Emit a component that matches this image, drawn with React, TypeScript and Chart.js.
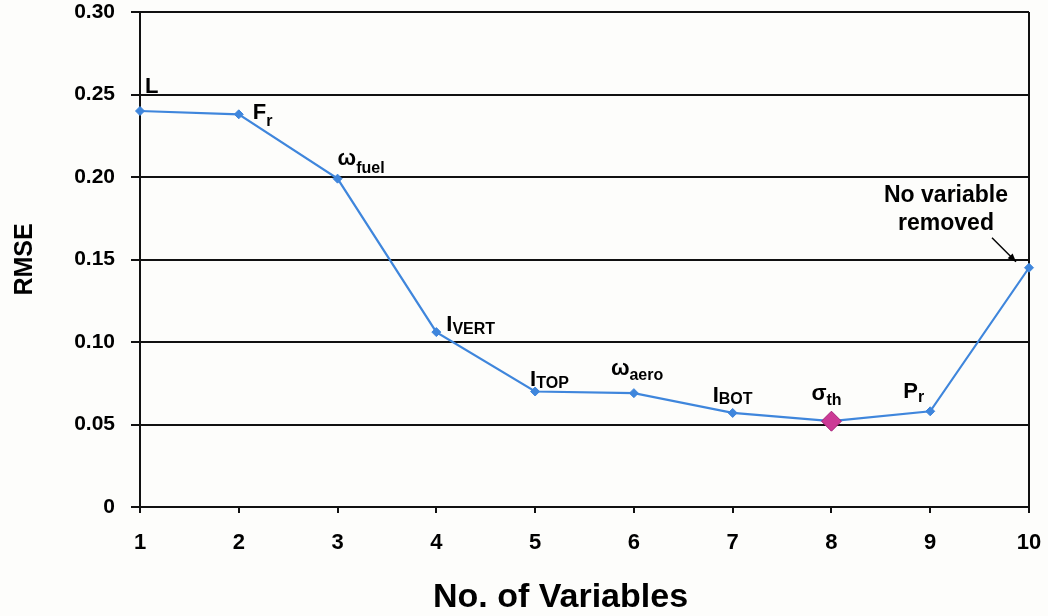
import React, { useEffect, useRef } from 'react';
import { Chart, registerables } from 'chart.js';

Chart.register(...registerables);

// ---- data ----
const VARIABLE_COUNTS = [1, 2, 3, 4, 5, 6, 7, 8, 9, 10];
const RMSE_VALUES = [0.240, 0.238, 0.199, 0.106, 0.070, 0.069, 0.057, 0.052, 0.058, 0.145];
const LABEL_MAIN = ['L', 'F', 'ω', 'I', 'I', 'ω', 'I', 'σ', 'P', ''];
const LABEL_SUB = ['', 'r', 'fuel', 'VERT', 'TOP', 'aero', 'BOT', 'th', 'r', ''];
const ANNOTATION_LINES = ['No variable', 'removed'];
const BEST_INDEX = 7;
const X_TITLE = 'No. of Variables';
const Y_TITLE = 'RMSE';

// ---- styling / label placement (pixel offsets from each point: dx, dy, subscript dy) ----
const FONT = '"Liberation Sans", Arial, Helvetica, sans-serif';
const LABEL_OFFSETS = [
  [5, -18, 0],
  [14, 5, 7],
  [0, -14, 8],
  [10, -1, 3],
  [-5, -6, 2],
  [-23, -18, 5],
  [-20, -11, 2],
  [-20, -21, 5],
  [-27, -13, 4],
  [0, 0, 0],
];
const LINE_COLOR = '#3f86dc';
const BEST_COLOR = '#cc3a95';
const AXIS_COLOR = '#111111';

const zeroPadding = (s: any) => {
  s.paddingTop = 0;
  s.paddingBottom = 0;
  s.paddingLeft = 0;
  s.paddingRight = 0;
};

const annotatePlugin = {
  id: 'annotate',
  beforeDraw(chart: any) {
    const ctx = chart.ctx;
    ctx.save();
    ctx.fillStyle = '#fdfdfb';
    ctx.fillRect(0, 0, chart.width, chart.height);
    ctx.restore();
  },
  afterDatasetsDraw(chart: any) {
    const ctx = chart.ctx;
    const meta = chart.getDatasetMeta(0);
    ctx.save();
    ctx.fillStyle = '#000';
    ctx.textBaseline = 'alphabetic';
    ctx.textAlign = 'left';
    meta.data.forEach((pt: any, i: number) => {
      const main = LABEL_MAIN[i];
      if (!main) return;
      const [dx, dy, sdy] = LABEL_OFFSETS[i];
      const x = pt.x + dx;
      const y = pt.y + dy;
      ctx.font = `bold 22px ${FONT}`;
      ctx.fillText(main, x, y);
      const w = ctx.measureText(main).width;
      if (LABEL_SUB[i]) {
        ctx.font = `bold 16px ${FONT}`;
        ctx.fillText(LABEL_SUB[i], x + w, y + sdy);
      }
    });

    // annotation for the last point
    const last = meta.data[meta.data.length - 1];
    ctx.font = `bold 23px ${FONT}`;
    ctx.textAlign = 'center';
    ctx.fillText(ANNOTATION_LINES[0], last.x - 83, last.y - 66);
    ctx.fillText(ANNOTATION_LINES[1], last.x - 83, last.y - 38);

    // arrow
    const x0 = last.x - 37, y0 = last.y - 30;
    const x1 = last.x - 13, y1 = last.y - 6;
    ctx.strokeStyle = '#000';
    ctx.lineWidth = 1.5;
    ctx.beginPath();
    ctx.moveTo(x0, y0);
    ctx.lineTo(x1, y1);
    ctx.stroke();
    const ang = Math.atan2(y1 - y0, x1 - x0);
    const ah = 9;
    ctx.beginPath();
    ctx.moveTo(x1, y1);
    ctx.lineTo(x1 - ah * Math.cos(ang - 0.4), y1 - ah * Math.sin(ang - 0.4));
    ctx.lineTo(x1 - ah * Math.cos(ang + 0.4), y1 - ah * Math.sin(ang + 0.4));
    ctx.closePath();
    ctx.fill();

    // x-axis title
    const ca = chart.chartArea;
    ctx.font = `bold 34px ${FONT}`;
    ctx.textAlign = 'center';
    ctx.fillText(X_TITLE, ca.left + (ca.right - ca.left) * 0.473, chart.height - 9);
    ctx.restore();
  },
};

export default function App() {
  const canvasRef = useRef<HTMLCanvasElement | null>(null);

  useEffect(() => {
    if (!canvasRef.current) return;
    const chart = new Chart(canvasRef.current, {
      type: 'line',
      data: {
        datasets: [
          {
            label: Y_TITLE,
            data: VARIABLE_COUNTS.map((x, i) => ({ x, y: RMSE_VALUES[i] })),
            borderColor: LINE_COLOR,
            borderWidth: 2.2,
            tension: 0,
            clip: false as any,
            pointStyle: 'rectRot',
            pointRadius: (c: any) => (c.dataIndex === BEST_INDEX ? 10 : 4.5),
            pointBackgroundColor: (c: any) => (c.dataIndex === BEST_INDEX ? BEST_COLOR : LINE_COLOR),
            pointBorderColor: (c: any) => (c.dataIndex === BEST_INDEX ? '#a52478' : LINE_COLOR),
            pointBorderWidth: 1,
          },
        ],
      },
      options: {
        responsive: false,
        animation: false,
        events: [],
        layout: { padding: { top: 12, right: 19, left: 0, bottom: 0 } },
        plugins: { legend: { display: false }, tooltip: { enabled: false } },
        scales: {
          x: {
            type: 'linear',
            min: 1,
            max: 10,
            afterFit: (s: any) => { s.height = 109; zeroPadding(s); },
            ticks: {
              stepSize: 1,
              color: '#000',
              padding: 17,
              font: { family: FONT, size: 22, weight: 'bold' },
            },
            grid: {
              color: (c: any) => (c.tick && c.tick.value === 10 ? AXIS_COLOR : 'rgba(0,0,0,0)'),
              tickColor: AXIS_COLOR,
              tickLength: 6,
              lineWidth: 2,
            },
            border: { display: true, color: AXIS_COLOR, width: 2 },
          },
          y: {
            min: 0,
            max: 0.3,
            afterFit: (s: any) => { s.width = 140; zeroPadding(s); },
            ticks: {
              stepSize: 0.05,
              color: '#000',
              padding: 16,
              font: { family: FONT, size: 21, weight: 'bold' },
              callback: (v: any) => (Number(v) === 0 ? '0' : Number(v).toFixed(2)),
            },
            grid: {
              color: AXIS_COLOR,
              tickColor: AXIS_COLOR,
              tickLength: 9,
              lineWidth: 2,
            },
            border: { display: true, color: AXIS_COLOR, width: 2 },
            title: {
              display: true,
              text: Y_TITLE,
              color: '#000',
              padding: { top: 10, bottom: 0 },
              font: { family: FONT, size: 25, weight: 'bold' },
            },
          },
        },
      },
      plugins: [annotatePlugin],
    } as any);
    return () => chart.destroy();
  }, []);

  return (
    <div style={{ position: 'fixed', left: 0, top: 0, width: 1048, height: 616 }}>
      <canvas ref={canvasRef} width={1048} height={616} style={{ display: 'block' }} />
    </div>
  );
}
